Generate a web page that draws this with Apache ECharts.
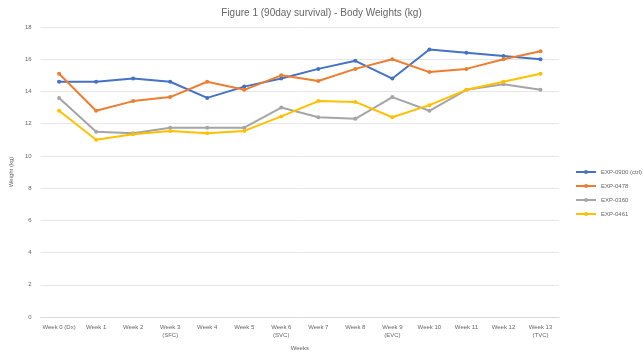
<!DOCTYPE html>
<html>
<head>
<meta charset="utf-8">
<script src="https://cdn.jsdelivr.net/npm/echarts@6/dist/echarts.min.js"></script>
<style>
  html, body { margin: 0; padding: 0; background: #fff; }
  #chart { width: 643px; height: 357px; }
</style>
</head>
<body>
<div id="chart"></div>
<script>
// Weekly body weights (kg) for each group over the 90-day study
const weeks = [
  'Week 0 (Dx)', 'Week 1', 'Week 2', 'Week 3\n(SFC)', 'Week 4', 'Week 5',
  'Week 6\n(SVC)', 'Week 7', 'Week 8', 'Week 9\n(EVC)', 'Week 10', 'Week 11',
  'Week 12', 'Week 13\n(TVC)'
];
const groupNames = ['EXP-0900 (ctrl)', 'EXP-0478', 'EXP-0360', 'EXP-0461'];
const groupA = [14.6, 14.6, 14.8, 14.6, 13.6, 14.3, 14.8, 15.4, 15.9, 14.8, 16.6, 16.4, 16.2, 16.0];
const groupB = [15.1, 12.8, 13.4, 13.65, 14.6, 14.1, 15.0, 14.65, 15.4, 16.0, 15.2, 15.4, 16.0, 16.5];
const groupC = [13.6, 11.5, 11.4, 11.75, 11.75, 11.75, 13.0, 12.4, 12.3, 13.65, 12.8, 14.1, 14.45, 14.1];
const groupD = [12.8, 11.0, 11.35, 11.55, 11.4, 11.55, 12.45, 13.4, 13.35, 12.4, 13.15, 14.1, 14.6, 15.1];
const yTicks = { min: 0, max: 18, step: 2 };

const colors = ['#4472C4', '#ED7D31', '#A5A5A5', '#FFC000'];
const values = [groupA, groupB, groupC, groupD];

const chart = echarts.init(document.getElementById('chart'), null, { renderer: 'canvas' });
chart.setOption({
  animation: false,
  textStyle: { fontFamily: 'Liberation Sans, Arial, sans-serif' },
  title: {
    text: 'Figure 1 (90day survival) - Body Weights (kg)',
    left: 'center',
    top: 3,
    textStyle: { fontSize: 10, fontWeight: 'normal', color: '#666666' }
  },
  legend: {
    orient: 'vertical',
    left: 570,
    top: 164,
    itemWidth: 20,
    itemHeight: 5,
    itemGap: 8,
    textStyle: { fontSize: 6, color: '#666666' },
    data: groupNames
  },
  grid: { left: 33, right: 84, top: 27, bottom: 40 },
  xAxis: {
    type: 'category',
    data: weeks,
    boundaryGap: true,
    name: 'Weeks',
    nameLocation: 'middle',
    nameGap: 28,
    nameTextStyle: { fontSize: 6, color: '#666666' },
    axisLine: { lineStyle: { color: '#d9d9d9' } },
    axisTick: { show: false },
    axisLabel: { fontSize: 6, color: '#666666', interval: 0, margin: 6, lineHeight: 8 }
  },
  yAxis: {
    type: 'value',
    min: yTicks.min,
    max: yTicks.max,
    interval: yTicks.step,
    name: 'Weight (kg)',
    nameLocation: 'middle',
    nameGap: 20,
    nameTextStyle: { fontSize: 6, color: '#666666' },
    axisLine: { show: false },
    axisTick: { show: false },
    axisLabel: { fontSize: 6, color: '#666666', margin: 9 },
    splitLine: { lineStyle: { color: '#e6e6e6', width: 1 } }
  },
  series: groupNames.map((name, i) => ({
    name,
    type: 'line',
    data: values[i],
    symbol: 'circle',
    symbolSize: 4,
    lineStyle: { width: 2, color: colors[i] },
    itemStyle: { color: colors[i] }
  }))
});
</script>
</body>
</html>
